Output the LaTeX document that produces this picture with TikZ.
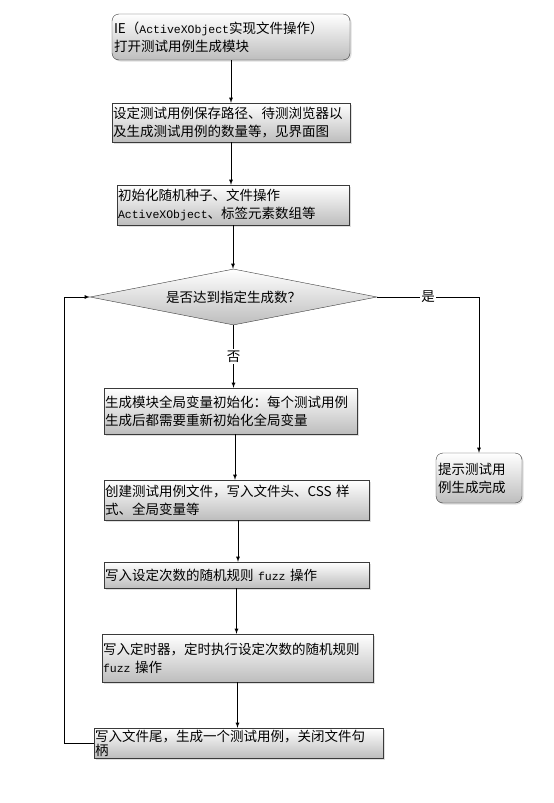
\documentclass[tikz,border=0pt]{standalone}
\usepackage{fontspec}
\setmainfont{Noto Sans CJK SC}
\setmonofont{Liberation Mono}
\usetikzlibrary{shapes.geometric, arrows, shadows}
\definecolor{boxLine}{HTML}{3A3A3A}
\definecolor{boxShade}{HTML}{BDBDBD}
\newcommand{\code}[1]{{\fontsize{11.5}{18}\selectfont\ttfamily #1}}
\tikzstyle{process} = [rectangle, inner sep=1pt, align=left, draw=boxLine, top color=white, bottom color=boxShade, drop shadow={opacity=0.25, shadow xshift=1.5pt, shadow yshift=-1.5pt}]
\tikzstyle{terminal} = [process, rounded corners=7pt]
\tikzstyle{decision} = [diamond, aspect=5.1, minimum width=287pt, minimum height=56pt, draw=boxLine, top color=white, bottom color=boxShade, inner sep=1pt]
\tikzstyle{arrow} = [line width=0.8pt,->,>=latex]
\tikzstyle{answer} = [fill=white, inner sep=1.5pt]

\begin{document}
\begin{tikzpicture}[x=1pt, y=1pt, font=\fontsize{13.5}{18}\selectfont]
\useasboundingbox (0,0) rectangle (554,-803);

% Nodes
\node (start) [terminal, minimum width=238pt, minimum height=46pt, text width=234pt] at (231,-37) {IE（\code{ActiveXObject}实现文件操作）\\打开测试用例生成模块};
\node (setup) [process, minimum width=238pt, minimum height=39pt, text width=236pt] at (231,-122.5) {设定测试用例保存路径、待测浏览器以\\及生成测试用例的数量等，见界面图};
\node (seed) [process, minimum width=232pt, minimum height=40pt, text width=230pt] at (233,-205) {初始化随机种子、文件操作\\\code{ActiveXObject}、标签元素数组等};
\node (check) [decision] at (233.5,-297) {是否达到指定生成数？};
\node (globals) [process, minimum width=253pt, minimum height=46pt, text width=251pt] at (230.5,-411) {生成模块全局变量初始化：每个测试用例\\生成后都需要重新初始化全局变量};
\node (create) [process, minimum width=265pt, minimum height=40pt, text width=263pt] at (236.5,-500) {创建测试用例文件，写入文件头、CSS 样\\式、全局变量等};
\node (fuzz) [process, minimum width=265pt, minimum height=26pt, text width=263pt] at (236.5,-575) {写入设定次数的随机规则 \code{fuzz} 操作};
\node (timer) [process, minimum width=271pt, minimum height=48pt, text width=269pt] at (237.5,-658) {写入定时器，定时执行设定次数的随机规则\\\code{fuzz} 操作};
\node (close) [process, minimum width=289pt, minimum height=30pt, text width=287pt, font=\fontsize{13.5}{14}\selectfont] at (238.5,-743) {写入文件尾，生成一个测试用例，关闭文件句\\柄};
\node (done) [terminal, minimum width=86pt, minimum height=50pt, text width=82pt] at (479,-478) {提示测试用\\例生成完成};

% Links
\draw [arrow] (start) -- (start |- setup.north);
\draw [arrow] (setup) -- (setup |- seed.north);
\draw [arrow] (seed) -- (seed |- check.north);
\draw [arrow] (check) -- node[answer] {否} (check |- globals.north);
\draw [arrow] (check.east) -| node[answer, pos=0.25] {是} (done.north);
\draw [arrow] ([xshift=4.5pt]globals.south) -- ([xshift=4.5pt]globals.south |- create.north);
\draw [arrow] ([xshift=1.5pt]create.south) -- ([xshift=1.5pt]create.south |- fuzz.north);
\draw [arrow] (fuzz) -- (fuzz |- timer.north);
\draw [arrow] (timer) -- (timer |- close.north);
\draw [arrow] (close.west) -- ++(-29,0) |- (check.west);

\end{tikzpicture}
\end{document}
